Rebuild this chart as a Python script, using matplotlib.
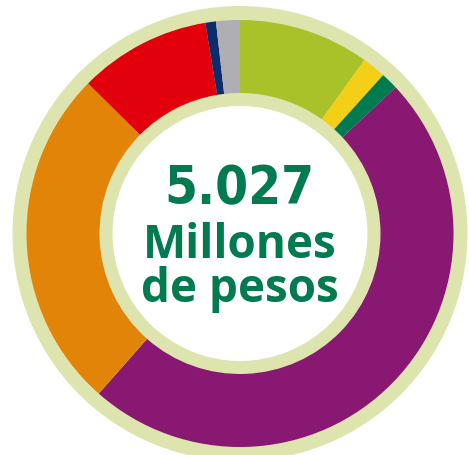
import matplotlib
matplotlib.use("Agg")
import matplotlib.pyplot as plt
from matplotlib.patches import Circle

# shares of the 5.027 millones, clockwise from 12 o'clock
labels = ["lima", "amarillo", "verde", "morado", "naranja", "rojo", "azul", "gris"]
shares = [9.9, 1.8, 1.3, 48.5, 25.9, 10.0, 0.8, 1.8]
colors = ["#A9C22A", "#F4CF17", "#007A4F", "#891872",
          "#E18407", "#E1000B", "#0C2D6B", "#AEAEB4"]

total_text = "5.027"
unit_lines = ["Millones", "de pesos"]

W, H = 469, 456
ring = "#DDE4AE"
text_green = "#007A4F"

fig = plt.figure(figsize=(W / 100, H / 100), dpi=100)
ax = fig.add_axes([0, 0, 1, 1])

cx, cy = 240, H - 234.5

ax.add_patch(Circle((cx, cy), 227.5, color=ring, lw=0, zorder=0))
ax.pie(
    shares,
    colors=colors,
    startangle=90,
    counterclock=False,
    center=(cx, cy),
    radius=213.5,
    wedgeprops=dict(width=73, linewidth=0),
)
ax.add_patch(Circle((cx, cy), 127.5, color="white", lw=0, zorder=5))

ax.text(239, H - 204, total_text, ha="center", va="baseline",
        family="DejaVu Sans", fontstretch="condensed", fontweight="bold",
        fontsize=38, color=text_green, zorder=6)
ax.text(240, H - 302, "\n".join(unit_lines), ha="center", va="baseline",
        multialignment="center", linespacing=0.93,
        family="Open Sans", fontweight="bold", fontsize=33,
        color=text_green, zorder=6)

ax.set_xlim(0, W)
ax.set_ylim(0, H)
ax.set_aspect("equal")
ax.axis("off")

fig.savefig("out.png", dpi=100)
